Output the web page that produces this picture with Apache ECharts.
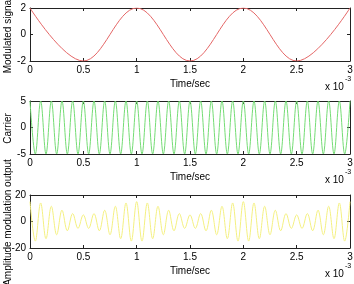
<!DOCTYPE html>
<html><head><meta charset="utf-8">
<script src="https://cdn.jsdelivr.net/npm/echarts@6/dist/echarts.min.js"></script>
<style>html,body{margin:0;padding:0;background:#fff}#c{width:354px;height:284px}</style>
</head><body><div id="c"></div>
<script>
// Modulating signal extrema (time in ms)
const modTime = [0, 0.5, 1, 1.5, 2, 2.5, 3];
const modValue = [2, -2, 2, -2, 2, -2, 2];

// Carrier extrema (time in ms)
const carrierTime = [0,0.05,0.1,0.15,0.2,0.25,0.3,0.35,0.4,0.45,0.5,0.55,0.6,0.65,0.7,0.75,0.8,0.85,0.9,0.95,
  1,1.05,1.1,1.15,1.2,1.25,1.3,1.35,1.4,1.45,1.5,1.55,1.6,1.65,1.7,1.75,1.8,1.85,1.9,1.95,
  2,2.05,2.1,2.15,2.2,2.25,2.3,2.35,2.4,2.45,2.5,2.55,2.6,2.65,2.7,2.75,2.8,2.85,2.9,2.95,3];
const carrierValue = [5,-5,5,-5,5,-5,5,-5,5,-5,5,-5,5,-5,5,-5,5,-5,5,-5,
  5,-5,5,-5,5,-5,5,-5,5,-5,5,-5,5,-5,5,-5,5,-5,5,-5,
  5,-5,5,-5,5,-5,5,-5,5,-5,5,-5,5,-5,5,-5,5,-5,5,-5,5];

// AM output extrema (time in ms)
const amTime = carrierTime;
const amValue = [15,-14.8,14,-13,11.5,-10,8.5,-7,6,-5.2,5,-5.2,6,-7,8.5,-10,11.5,-13,14,-14.8,
  15,-14.8,14,-13,11.5,-10,8.5,-7,6,-5.2,5,-5.2,6,-7,8.5,-10,11.5,-13,14,-14.8,
  15,-14.8,14,-13,11.5,-10,8.5,-7,6,-5.2,5,-5.2,6,-7,8.5,-10,11.5,-13,14,-14.8,15];

const xTicks = [0, 0.5, 1, 1.5, 2, 2.5, 3];
const yNames = ['Modulated signal', 'Carrier', 'Amplitude modulation output'];
const yRanges = [[-2, 2, 2], [-5, 5, 5], [-20, 20, 20]];
const lineColors = ['#e46666', '#74dc74', '#f4f080'];

const FONT = 'Liberation Sans, Arial, sans-serif';
const tops = [8, 101, 195];
const H = 53;
const axisCol = '#222';

const grids = [], xAxes = [], yAxes = [], series = [], graphics = [];
const datasets = [[modTime, modValue], [carrierTime, carrierValue], [amTime, amValue]];

tops.forEach((top, i) => {
  grids.push({left: 30, width: 320, top: top, height: H, containLabel: false, outerBoundsMode: 'none'});
  const xBase = {
    gridIndex: i, type: 'value', min: xTicks[0], max: xTicks[xTicks.length - 1], interval: 0.5,
    splitLine: {show: false},
    axisLine: {show: true, onZero: false, lineStyle: {color: axisCol, width: 1}},
    axisTick: {show: true, inside: true, length: 3, lineStyle: {color: axisCol}},
  };
  xAxes.push(Object.assign({}, xBase, {
    position: 'bottom',
    axisLabel: {show: true, fontSize: 10, fontFamily: FONT, color: '#000', margin: 4},
    name: 'Time/sec', nameLocation: 'middle', nameGap: 18,
    nameTextStyle: {fontSize: 10, fontFamily: FONT, color: '#000'}
  }));
  xAxes.push(Object.assign({}, xBase, {position: 'top', axisLabel: {show: false}}));
  const r = yRanges[i];
  const yBase = {
    gridIndex: i, type: 'value', min: r[0], max: r[1], interval: r[2],
    splitLine: {show: false},
    axisLine: {show: true, onZero: false, lineStyle: {color: axisCol, width: 1}},
    axisTick: {show: true, inside: true, length: 3, lineStyle: {color: axisCol}},
  };
  yAxes.push(Object.assign({}, yBase, {
    position: 'left',
    axisLabel: {show: true, fontSize: 10, fontFamily: FONT, color: '#000', margin: 4}
  }));
  yAxes.push(Object.assign({}, yBase, {position: 'right', axisLabel: {show: false}}));

  const [tArr, vArr] = datasets[i];
  series.push({
    type: 'line', xAxisIndex: 2 * i, yAxisIndex: 2 * i,
    data: tArr.map((t, k) => [t, vArr[k]]),
    smooth: 0.37, showSymbol: false, symbol: 'none', clip: true, animation: false,
    lineStyle: {color: lineColors[i], width: 1}
  });

  graphics.push({type: 'text', x: 8, y: top + H / 2 + 1, rotation: Math.PI / 2,
    style: {text: yNames[i], font: '10px ' + FONT, fill: '#000', align: 'center', verticalAlign: 'middle'}});
  graphics.push({type: 'text', left: 325, top: top + H + 21, style: {text: 'x 10', font: '10px ' + FONT, fill: '#000'}});
  graphics.push({type: 'text', left: 345, top: top + H + 15, style: {text: '-3', font: '7px ' + FONT, fill: '#000'}});
});

const chart = echarts.init(document.getElementById('c'), null, {renderer: 'canvas'});
chart.setOption({
  animation: false,
  grid: grids, xAxis: xAxes, yAxis: yAxes, series: series, graphic: graphics
});
</script></body></html>
